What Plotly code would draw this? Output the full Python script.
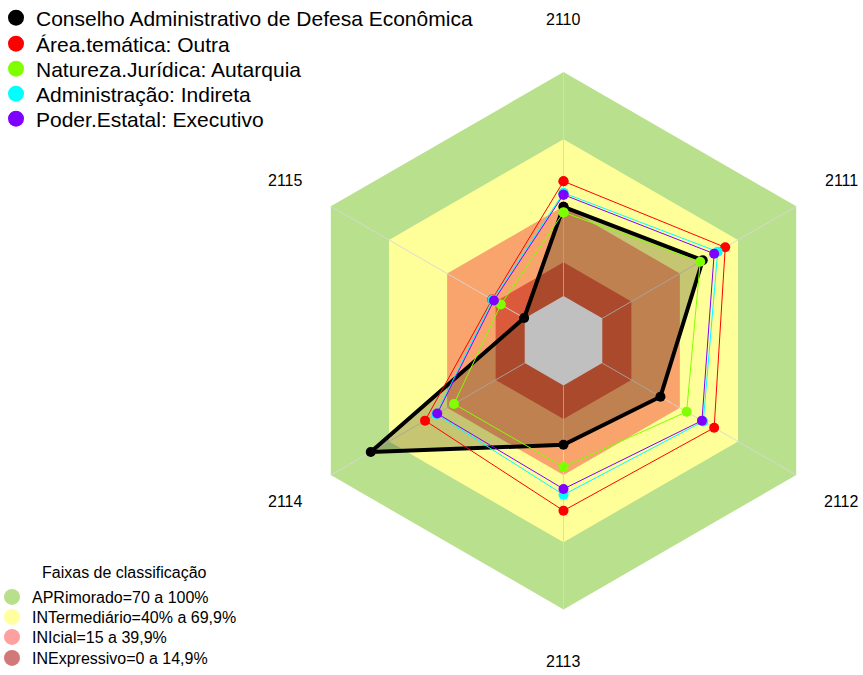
import math
import plotly.graph_objects as go

W, H = 863, 675

categories = ["2110", "2111", "2112", "2113", "2114", "2115"]

series_names = [
    "Conselho Administrativo de Defesa Econômica",
    "Área.temática: Outra",
    "Natureza.Jurídica: Autarquia",
    "Administração: Indireta",
    "Poder.Estatal: Executivo",
]
cade = [39.8, 51.8, 30.0, 26.5, 79.4, 0.3]
area_outra = [51.2, 63.4, 57.7, 55.9, 51.4, 16.8]
autarquia = [37.3, 50.5, 43.5, 36.4, 36.5, 12.3]
indireta = [46.0, 59.5, 52.1, 48.8, 45.6, 16.6]
executivo = [45.2, 57.7, 51.4, 46.2, 45.1, 15.9]
series_values = [cade, area_outra, autarquia, indireta, executivo]
series_colors = ["#000000", "#ff0000", "#80ff00", "#00ffff", "#8000ff"]

band_names = [
    "APRimorado=70 a 100%",
    "INTermediário=40% a 69,9%",
    "INIcial=15 a 39,9%",
    "INExpressivo=0 a 14,9%",
]
band_upper = [100, 70, 40, 15]
band_fill = ["#b9e08d", "#ffff99", "#f8a46c", "#dc5a3c"]
band_legend_colors = ["#b8e08c", "#ffffa0", "#ffa0a0", "#d27878"]
center_value = 0
radial_min = -20

cx, cy = 563.5, 340.7
R = 299.5
px_per_unit = 268.7 / (100 - radial_min)
upper = radial_min + R / px_per_unit
label_dist = 321

fig = go.Figure()
closed_theta = categories + [categories[0]]

# classification bands
for up, col in zip(band_upper, band_fill):
    fig.add_trace(go.Scatterpolar(
        r=[up] * 7, theta=closed_theta, mode="lines", fill="toself",
        fillcolor=col, line=dict(width=0, color=col), showlegend=False,
        hoverinfo="skip"))

# spokes
for c in categories:
    fig.add_trace(go.Scatterpolar(
        r=[center_value, 100], theta=[c, c], mode="lines",
        line=dict(color="rgba(215,215,215,0.9)", width=1),
        showlegend=False, hoverinfo="skip"))

# filled area of the main series
fig.add_trace(go.Scatterpolar(
    r=cade + [cade[0]], theta=closed_theta, mode="lines", fill="toself",
    fillcolor="rgba(25,25,0,0.25)", line=dict(width=0, color="rgba(0,0,0,0)"),
    showlegend=False, hoverinfo="skip"))

# grey centre
fig.add_trace(go.Scatterpolar(
    r=[center_value] * 7, theta=closed_theta, mode="lines", fill="toself",
    fillcolor="#c0c0c0", line=dict(width=0, color="#c0c0c0"),
    showlegend=False, hoverinfo="skip"))

# series lines
for i, (name, vals, col) in enumerate(zip(series_names, series_values, series_colors)):
    fig.add_trace(go.Scatterpolar(
        r=vals + [vals[0]], theta=closed_theta, mode="lines+markers",
        line=dict(color=col, width=4 if i == 0 else 1),
        marker=dict(color=col, size=10),
        name=name, showlegend=False))

# legend entries (series)
ser_y = [18, 44, 69, 94, 119]
for i, (name, col) in enumerate(zip(series_names, series_colors)):
    lg = "legend" if i == 0 else f"legend{i+1}"
    fig.add_trace(go.Scatterpolar(
        r=[None], theta=[None], mode="markers", name=name,
        marker=dict(color=col, size=16), legend=lg, showlegend=True))

band_y = [597, 617, 637, 658]
for j, (name, col) in enumerate(zip(band_names, band_legend_colors)):
    lg = f"legend{6+j}"
    fig.add_trace(go.Scatterpolar(
        r=[None], theta=[None], mode="markers", name=name,
        marker=dict(color=col, size=16), legend=lg, showlegend=True))

layout_legends = {}
for i in range(5):
    key = "legend" if i == 0 else f"legend{i+1}"
    layout_legends[key] = dict(
        x=-4 / W, xanchor="left", y=1 - ser_y[i] / H, yanchor="middle",
        bgcolor="rgba(0,0,0,0)", font=dict(size=21, color="black",
                                           family="Liberation Sans, Arial"))
for j in range(4):
    key = f"legend{6+j}"
    layout_legends[key] = dict(
        x=-8 / W, xanchor="left", y=1 - band_y[j] / H, yanchor="middle",
        bgcolor="rgba(0,0,0,0)", font=dict(size=16, color="black",
                                           family="Liberation Sans, Arial"))

# category labels around the chart
annotations = []
for k, cat in enumerate(categories):
    ang = math.radians(90 - 360 * k / len(categories))
    annotations.append(dict(
        text=cat, x=(cx + label_dist * math.cos(ang)) / W,
        y=1 - (cy - label_dist * math.sin(ang)) / H,
        xref="paper", yref="paper", showarrow=False,
        xanchor="center", yanchor="middle",
        font=dict(size=16, color="black")))
annotations.append(dict(text="Faixas de classificação", x=124 / W, y=1 - 572 / H,
                        xref="paper", yref="paper", showarrow=False,
                        xanchor="center", yanchor="middle",
                        font=dict(size=16, color="black")))

fig.update_layout(
    width=W, height=H,
    margin=dict(l=0, r=0, t=0, b=0, autoexpand=False),
    paper_bgcolor="white", plot_bgcolor="white",
    font=dict(family="Liberation Sans, Arial", color="black"),
    polar=dict(
        domain=dict(x=[(cx - R) / W, min(1.0, (cx + R) / W)],
                    y=[1 - (cy + R) / H, 1 - (cy - R) / H]),
        bgcolor="rgba(0,0,0,0)",
        radialaxis=dict(visible=False, range=[radial_min, upper]),
        angularaxis=dict(type="category", categoryarray=categories,
                         direction="clockwise", rotation=90,
                         showgrid=False, showline=False, ticks="",
                         showticklabels=False),
    ),
    annotations=annotations,
    **layout_legends,
)

fig.write_html("out.html", config={"displayModeBar": False},
               post_script="document.body.style.margin='0px';")
